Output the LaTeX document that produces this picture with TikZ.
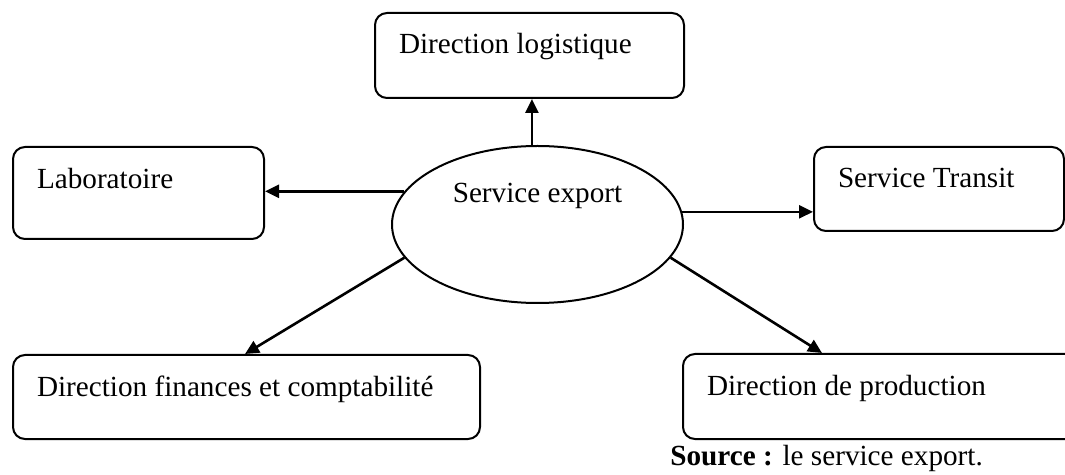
\documentclass[tikz,border=0pt]{standalone}
\usepackage{fontspec}
\setmainfont{Liberation Serif}
\usetikzlibrary{shapes.geometric}
\usetikzlibrary{arrows.meta}

\begin{document}
\begin{tikzpicture}[x=0.5pt, y=-0.5pt,
	every node/.style={font=\fontsize{14.6pt}{17pt}\selectfont},
	box/.style={draw, line width=1pt, rounded corners=6pt, anchor=north west, align=flush left, inner xsep=12pt, inner ysep=0pt, text width=#1},
	arr/.style={line width=1.3pt, -{Triangle[length=7pt,width=6.5pt]}}]
	\clip (0, 0) rectangle (1065, 475);
	\node[box=130.5pt, text height=20.5pt, text depth=22pt] (logi) at (374, 12) {Direction logistique};
	\node[box=101.5pt, text height=21pt, text depth=25pt] (lab) at (12, 146) {Laboratoire};
	\node[box=101pt, text height=20.5pt, text depth=21.5pt] (transit) at (813, 146) {Service Transit};
	\node[box=209.5pt, text height=21pt, text depth=21pt] (fin) at (12, 354) {Direction finances et comptabilité};
	\node[box=176pt, text height=21pt, text depth=21.5pt] (prod) at (682, 353) {Direction de production};
	\node[draw, ellipse, line width=1pt, minimum width=145.5pt, minimum height=78.5pt, inner sep=0pt, text height=6pt, text depth=27.5pt] (export) at (537.5, 224.5) {Service export};
	\node[anchor=base west, inner sep=0pt] (src) at (670, 466) {\textbf{Source :} le service export.};
	\draw [arr] (export.94) to (export.94 |- logi.south);
	\draw [arr] (export.166) to (export.166 -| lab.east);
	\draw [arr] (export.5) to (export.5 -| transit.west);
	\draw [arr] (export.194) to ([xshift=116.5pt]fin.north west);
	\draw [arr] (export.346) to ([xshift=70pt]prod.north west);
\end{tikzpicture}
\end{document}
